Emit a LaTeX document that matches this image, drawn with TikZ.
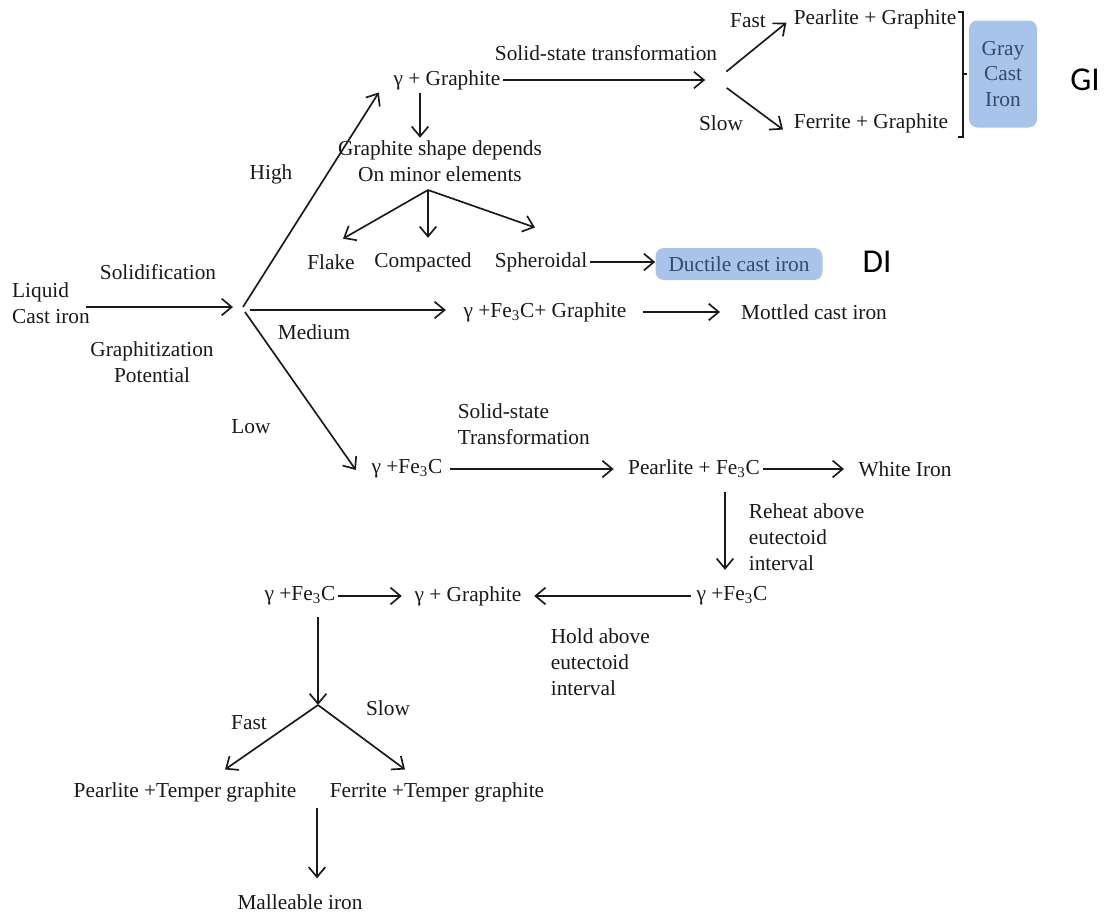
\documentclass[tikz,border=0pt]{standalone}
\usepackage{fontspec}
\setmainfont{Liberation Serif}
\newfontfamily\gradefont{Carlito}
\usepackage{tikz}
\usetikzlibrary{arrows.meta}
\usepackage{xcolor}
\definecolor{boxblue}{RGB}{168,196,234}
\definecolor{boxtext}{RGB}{52,72,104}
\definecolor{ink}{RGB}{25,25,25}

\begin{document}
\begin{tikzpicture}[x=0.6pt,y=-0.6pt,
	txt/.style={inner sep=1.5pt, font=\fontsize{12.8}{15.5}\selectfont, text=ink},
	arr/.style={draw=ink, line width=1pt, -{Straight Barb[length=6pt,width=10pt]}},
	bluebox/.style={txt, fill=boxblue, rounded corners=5pt, text=boxtext},
	grade/.style={inner sep=0pt, font=\gradefont\fontsize{20}{24}\selectfont}]
	\useasboundingbox (0,0) rectangle (1109,914);
	\node (liquid) [txt, align=left] at (51,303) {Liquid\\Cast iron};
	\node (solid) [txt] at (158,272) {Solidification};
	\node (gpot) [txt, align=center] at (152,362) {Graphitization\\Potential};
	\coordinate (split) at (243,307);
	\node (high) [txt] at (271,174) {High};
	\node (medium) [txt] at (314,332) {Medium};
	\node (low) [txt] at (251,427) {Low};
	\node (gg) [txt] at (447,80) {γ + Graphite};
	\node (sst) [txt] at (606,53) {Solid-state transformation};
	\coordinate (fork) at (716,80);
	\node (fast) [txt] at (748,21) {Fast};
	\node (slow) [txt] at (721,123) {Slow};
	\node (pg) [txt] at (875,19) {Pearlite + Graphite};
	\node (fg) [txt] at (871,123) {Ferrite + Graphite};
	\node (gray) [bluebox, align=center, minimum width=40.8pt, minimum height=64.2pt] at (1003,74) {Gray\\Cast\\Iron};
	\node (gi) [grade] at (1085,80) {GI};
	\node (shape) [txt, align=center] at (440,161) {Graphite shape depends\\On minor elements};
	\coordinate (fan) at (428,190);
	\node (flake) [txt] at (331,262) {Flake};
	\node (compacted) [txt] at (423,262) {Compacted};
	\node (spheroidal) [txt] at (541,262) {Spheroidal};
	\node (ductile) [bluebox, minimum width=100.2pt, minimum height=19.2pt] at (739,264) {Ductile cast iron};
	\node (di) [grade] at (877,262) {DI};
	\node (gfg) [txt] at (545,312) {γ +Fe\textsubscript{3}C+ Graphite};
	\node (mottled) [txt] at (814,312) {Mottled cast iron};
	\node (gfc1) [txt] at (407,469) {γ +Fe\textsubscript{3}C};
	\node (sst2) [txt, align=left, anchor=west] at (455,424) {Solid-state\\Transformation};
	\node (pfc) [txt] at (694,469) {Pearlite + Fe\textsubscript{3}C};
	\node (white) [txt] at (905,469) {White Iron};
	\node (reheat) [txt, align=left, anchor=west] at (746,537) {Reheat above\\eutectoid\\interval};
	\node (gfc2) [txt] at (732,596) {γ +Fe\textsubscript{3}C};
	\node (gg2) [txt] at (468,596) {γ + Graphite};
	\node (hold) [txt, align=left, anchor=west] at (548,662) {Hold above\\eutectoid\\interval};
	\node (gfc3) [txt] at (300,596) {γ +Fe\textsubscript{3}C};
	\coordinate (split2) at (318,705);
	\node (fast2) [txt] at (249,723) {Fast};
	\node (slow2) [txt] at (388,708) {Slow};
	\node (ptg) [txt] at (185,792) {Pearlite +Temper graphite};
	\node (ftg) [txt] at (437,792) {Ferrite +Temper graphite};
	\coordinate (merge) at (317,808);
	\node (malleable) [txt] at (300,902) {Malleable iron};
	\draw[arr, shorten <=-4pt, shorten >=6pt] (split -| liquid.east) -- (split);
	\draw[arr] (split) -- ([shift={(-12,0)}]gg.south west);
	\draw[arr] ([shift={(7,3)}]split) -- ([shift={(-15,-2)}]gfg.west);
	\draw[arr] ([shift={(2,5)}]split) -- ([shift={(-13,1)}]gfc1.west);
	\draw[arr, shorten >=6.5pt] (gg.east) -- (fork);
	\draw[arr, shorten <=8pt, shorten >=3.5pt] (fork) -- (pg.west);
	\draw[arr, shorten <=8pt, shorten >=6pt] (fork) -- (fg.south west);
	\draw[ink, line width=0.8pt] (958,12) -| (963,137) -- (958,137);
	\draw[ink, line width=0.8pt] (963,74) -- (967,74);
	\draw[arr] ([shift={(-27,0)}]gg.south) -- ([shift={(-20,0)}]shape.north);
	\draw[arr] (fan) -- ([shift={(12,-13)}]flake.north);
	\draw[arr, shorten >=7pt] (fan) -- (fan |- compacted.north);
	\draw[arr] (fan) -- ([shift={(-6,-22)}]spheroidal.north);
	\draw[arr] (spheroidal.east) -- (spheroidal.east -| ductile.west);
	\draw[arr, shorten <=8pt, shorten >=11pt] (gfg.east) -- (mottled.west);
	\draw[arr, shorten <=3pt, shorten >=7pt] (gfc1.east) -- (pfc.west);
	\draw[arr, shorten >=7pt] (pfc.east) -- (white.west);
	\draw[arr] ([shift={(31,11)}]pfc.south) -- ([shift={(-7,-14)}]gfc2.north);
	\draw[arr, shorten <=2pt, shorten >=6pt] (gfc2.west) -- (gg2.east);
	\draw[arr, shorten >=6pt] (gfc3.east) -- (gg2.west);
	\draw[arr] ([shift={(18,9)}]gfc3.south) -- (split2);
	\draw[arr] (split2) -- ([shift={(40,-10)}]ptg.north);
	\draw[arr] (split2) -- ([shift={(-32,-10)}]ftg.north);
	\draw[arr, shorten >=8pt] (merge) -- (merge |- malleable.north);
\end{tikzpicture}
\end{document}
